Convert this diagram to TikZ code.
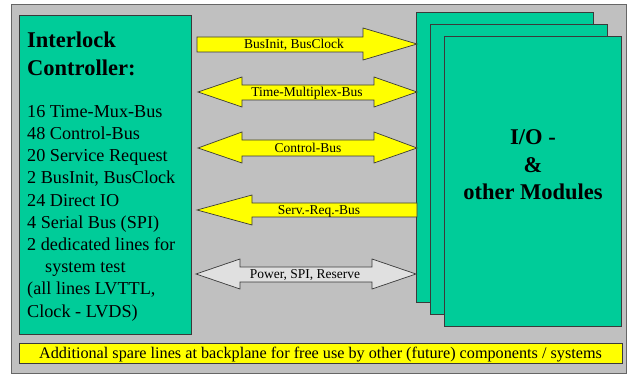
\documentclass[tikz,border=0pt]{standalone}
\usepackage{fontspec}
\setmainfont{Liberation Serif}
\definecolor{bg}{HTML}{C0C0C0}
\definecolor{grn}{HTML}{00CC99}
\definecolor{ylw}{HTML}{FFFF00}
\definecolor{lgr}{HTML}{E0E0E0}
\definecolor{edge}{HTML}{3A3A3A}
\begin{document}
\begin{tikzpicture}[x=1pt,y=-1pt,
  gbox/.style={draw=edge,line width=0.9pt,fill=grn,inner sep=0pt,anchor=north west},
  blk/.style={draw=edge,line width=0.7pt,fill=ylw,line join=miter},
  gblk/.style={draw=edge,line width=0.7pt,fill=lgr,line join=miter},
  lbl/.style={font=\fontsize{13.5}{14}\selectfont,inner sep=0pt},
  ]
\useasboundingbox (0,0) rectangle (627,374);
\node[draw=gray!80!black,fill=bg,line width=0.8pt,anchor=north west,minimum width=615pt,minimum height=369pt,inner sep=0pt] (frame) at (11,4) {};
% controller box
\node[gbox,minimum width=172pt,minimum height=319pt] (ctrl) at (19,15) {};
\node[anchor=base west,inner sep=0pt,align=left,font=\bfseries\fontsize{22.5}{28}\selectfont] (title) at (27,76) {Interlock\\Controller:};
\node[anchor=base west,inner sep=0pt,align=left,font=\fontsize{18.2}{22.2}\selectfont] (list) at (27,317)
 {16 Time-Mux-Bus\\48 Control-Bus\\20 Service Request\\2 BusInit, BusClock\\24 Direct IO\\4 Serial Bus (SPI)\\2 dedicated lines for\\\hspace*{18pt}system test\\(all lines LVTTL,\\Clock - LVDS)};
% module boxes
\node[gbox,minimum width=177pt,minimum height=290pt] (m1) at (416,12) {};
\node[gbox,minimum width=177pt,minimum height=290pt] (m2) at (430,24) {};
\node[gbox,minimum width=177pt,minimum height=290pt] (m3) at (444,36) {};
\node[inner sep=0pt,align=center,font=\bfseries\fontsize{22.5}{27.5}\selectfont,anchor=base] (mtext) at (533,200) {I/O -\\\&\\other Modules};
% arrows
\draw[blk] (197,37) -- (363,37) -- (363,28) -- (417,44) -- (363,60) -- (363,52) -- (197,52) -- cycle;
\node[lbl,anchor=base] (l1) at (294,48.5) {BusInit, BusClock};
\draw[blk] (198,92) -- (242,77) -- (242,85) -- (374,85) -- (374,77) -- (417,92) -- (374,107) -- (374,100) -- (242,100) -- (242,107) -- cycle;
\node[lbl,anchor=base] (l2) at (307,97) {Time-Multiplex-Bus};
\draw[blk] (198,148) -- (242,132) -- (242,140) -- (374,140) -- (374,132) -- (417,148) -- (374,163) -- (374,156) -- (242,156) -- (242,163) -- cycle;
\node[lbl,anchor=base] (l3) at (308,152.5) {Control-Bus};
\draw[blk] (197,210) -- (252,195) -- (252,203) -- (417,203) -- (417,217) -- (252,217) -- (252,225) -- cycle;
\node[lbl,anchor=base] (l4) at (319,214.5) {Serv.-Req.-Bus};
\draw[gblk] (196,274) -- (240,259) -- (240,267) -- (372,267) -- (372,259) -- (416,274) -- (372,289) -- (372,282) -- (240,282) -- (240,289) -- cycle;
\node[lbl,anchor=base] (l5) at (305,279) {Power, SPI, Reserve};
% bottom bar
\node[draw=edge,line width=0.9pt,fill=ylw,anchor=north west,minimum width=603pt,minimum height=20pt,inner sep=0pt] (bar) at (19,343) {};
\node[inner sep=0pt,anchor=base,font=\fontsize{16.2}{17}\selectfont] (bartext) at (320.5,358) {Additional spare lines at backplane for free use by other (future) components / systems};
\end{tikzpicture}
\end{document}
